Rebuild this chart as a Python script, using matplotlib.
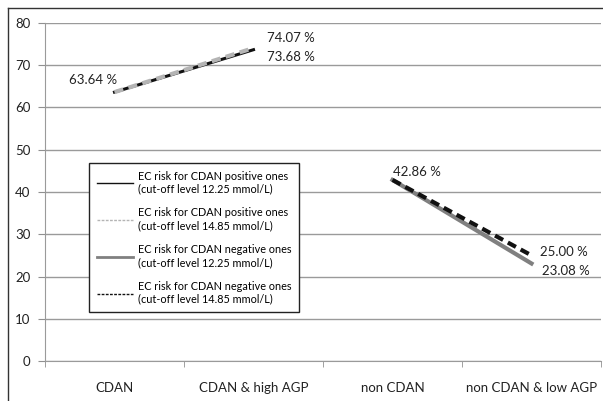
import numpy as np
import matplotlib
matplotlib.use("Agg")
import matplotlib.pyplot as plt
from matplotlib.lines import Line2D

plt.rcParams["font.family"] = ["Lato", "DejaVu Sans"]

categories = ["CDAN", "CDAN & high AGP", "non CDAN", "non CDAN & low AGP"]
pos_1225 = [63.64, 73.68, np.nan, np.nan]
pos_1485 = [63.64, 74.07, np.nan, np.nan]
neg_1225 = [np.nan, np.nan, 42.86, 23.08]
neg_1485 = [np.nan, np.nan, 42.86, 25.00]
labels = [
    "EC risk for CDAN positive ones\n(cut-off level 12.25 mmol/L)",
    "EC risk for CDAN positive ones\n(cut-off level 14.85 mmol/L)",
    "EC risk for CDAN negative ones\n(cut-off level 12.25 mmol/L)",
    "EC risk for CDAN negative ones\n(cut-off level 14.85 mmol/L)",
]

W, H = 603, 401
fig = plt.figure(figsize=(W / 100, H / 100), dpi=100)
ax = fig.add_axes([45 / W, 1 - 361 / H, 556 / W, 338 / H])

x = np.arange(len(categories))
ax.plot(x, pos_1225, color="#111111", linewidth=2.2, linestyle="-", zorder=3)
ax.plot(x, pos_1485, color="#b4b4b4", linewidth=3, linestyle=(0, (2.2, 1.3)), zorder=4)
ax.plot(x, neg_1225, color="#808080", linewidth=3, linestyle="-", zorder=3)
ax.plot(x, neg_1485, color="#111111", linewidth=3, linestyle=(0, (2.2, 1.3)), zorder=4)

# value labels, offsets given in pixels
def lab(xi, yi, dx, dy):
    ax.annotate("%.2f %%" % yi, (xi, yi), xytext=(dx / 1.389, -dy / 1.389),
                textcoords="offset points", ha="center", va="center",
                fontsize=9.5, color="#222222")

lab(0, pos_1225[0], -21, -12)
lab(1, pos_1485[1], 37, -10)
lab(1, pos_1225[1], 37, 7)
lab(2, neg_1225[2], 24, -8)
lab(3, neg_1485[3], 32, -3)
lab(3, neg_1225[3], 34, 8)

ax.set_xlim(-0.5, 3.5)
ax.set_ylim(0, 80)
ax.set_yticks(np.arange(0, 81, 10))
ax.set_xticks(x)
ax.set_xticklabels(categories)
ax.set_xticks(np.arange(-0.5, 3.6, 1), minor=True)
ax.tick_params(axis="x", which="major", length=0, pad=15, labelsize=9.5, labelcolor="#222222")
ax.tick_params(axis="x", which="minor", length=4, color="#909090", direction="out")
ax.tick_params(axis="y", length=5, color="#909090", pad=5.5, labelsize=9.5, labelcolor="#222222")
ax.grid(axis="y", color="#9a9a9a", linewidth=1)
ax.set_axisbelow(True)
for s in ["top", "right"]:
    ax.spines[s].set_visible(False)
ax.spines["left"].set_color("#9a9a9a")
ax.spines["bottom"].set_color("#9a9a9a")

leg_handles = [
    Line2D([], [], color="#111111", linewidth=1),
    Line2D([], [], color="#b4b4b4", linewidth=1, linestyle=(0, (2, 1))),
    Line2D([], [], color="#808080", linewidth=2),
    Line2D([], [], color="#111111", linewidth=1, linestyle=(0, (2, 1))),
]
leg = fig.legend(leg_handles, labels, loc="upper left",
                 bbox_to_anchor=(89 / W, 1 - 163 / H), bbox_transform=fig.transFigure,
                 borderaxespad=0, fontsize=7.8, handlelength=3.4, handletextpad=0.45,
                 labelspacing=1.2, borderpad=0.7, fancybox=False, framealpha=1,
                 edgecolor="#222222")
leg.get_frame().set_linewidth(1)

# outer frame
fig.add_artist(Line2D([8 / W, 8 / W], [0, 1 - 8 / H], color="#333333", linewidth=1, transform=fig.transFigure))
fig.add_artist(Line2D([8 / W, 1], [1 - 8 / H, 1 - 8 / H], color="#333333", linewidth=1, transform=fig.transFigure))

fig.savefig("out.png", dpi=100)
